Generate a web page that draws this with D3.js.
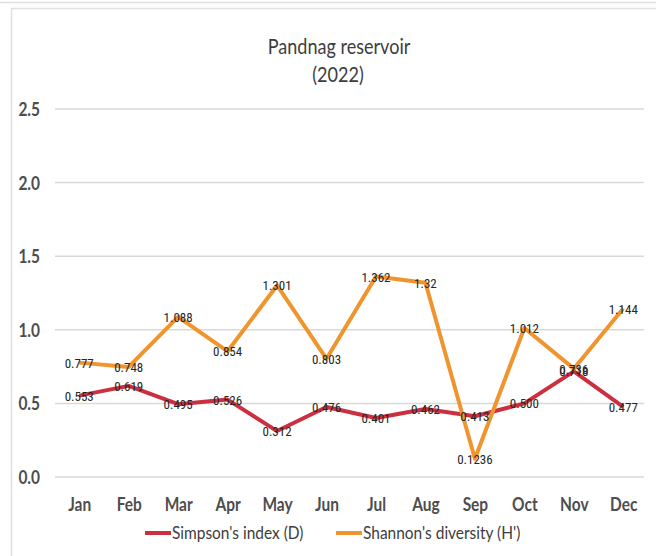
<!DOCTYPE html>
<html>
<head>
<meta charset="utf-8">
<script src="https://cdn.jsdelivr.net/npm/d3@7"></script>
<style>
  body { margin: 0; background: #fff; }
  .axis text { font-family: Lato, "DejaVu Sans", sans-serif; font-weight: bold; fill: #4d4d4d; font-size: 18px; }
  .title { font-family: Lato, sans-serif; fill: #3d3d3d; font-size: 21px; }
  .lbl { font-family: "Liberation Sans Narrow", "Roboto Condensed", Roboto, sans-serif; font-size: 13px; fill: #262626; }
  .legend text { font-family: Lato, sans-serif; font-size: 18px; fill: #3d3d3d; }
</style>
</head>
<body>
<svg width="656" height="556"></svg>
<script>
// **** data ****
var months = ['Jan','Feb','Mar','Apr','May','Jun','Jul','Aug','Sep','Oct','Nov','Dec'];
var simpson = [0.553, 0.619, 0.495, 0.526, 0.312, 0.476, 0.401, 0.462, 0.413, 0.500, 0.718, 0.477];
var shannon = [0.777, 0.748, 1.088, 0.854, 1.301, 0.803, 1.362, 1.32, 0.1236, 1.012, 0.736, 1.144];
var shannonText = ['0.777','0.748','1.088','0.854','1.301','0.803','1.362','1.32','0.1236','1.012','0.736','1.144'];
var yTicks = [0, 0.5, 1.0, 1.5, 2.0, 2.5];

var svg = d3.select('svg');
var squeeze = 0.86; // the reference font is tall and narrow

// frame
svg.append('line').attr('x1', 0).attr('x2', 656).attr('y1', 2.5).attr('y2', 2.5)
    .attr('stroke', '#e0e0e0').attr('stroke-width', 1.5);
svg.append('rect').attr('x', 11.5).attr('y', 8.5).attr('width', 660).attr('height', 560)
    .attr('fill', 'none').attr('stroke', '#e0e0e0').attr('stroke-width', 1.5);

// **** scales ****
var xScale = d3.scalePoint().domain(months).range([54.5, 648]).padding(0.5);
var yScale = d3.scaleLinear().domain([0, 2.5]).range([477, 109]);

// gridlines
svg.append('g').selectAll('line')
    .data(yTicks).enter().append('line')
    .attr('x1', 55).attr('x2', 644)
    .attr('y1', function(d){ return yScale(d); })
    .attr('y2', function(d){ return yScale(d); })
    .attr('stroke', '#d9d9d9').attr('stroke-width', 1.5);

// y axis
svg.append('g').attr('class', 'axis')
    .attr('transform', 'translate(40,0)')
    .call(d3.axisLeft(yScale).tickValues(yTicks).tickSize(0).tickPadding(0).tickFormat(d3.format('.1f')))
    .call(function(g){
        g.select('.domain').remove();
        g.selectAll('text').attr('dy', '0.36em').attr('transform', 'scale(' + squeeze + ',1)');
    });

// x axis
svg.append('g').attr('class', 'axis')
    .attr('transform', 'translate(0,511)')
    .call(d3.axisBottom(xScale).tickSize(0).tickPadding(0))
    .call(function(g){
        g.select('.domain').remove();
        g.selectAll('text').attr('y', 0).attr('dy', 0).attr('transform', 'scale(' + squeeze + ',1)');
    });

// title
function squeezedText(sel, x, y, cls, txt) {
    sel.append('g').attr('transform', 'translate(' + x + ',' + y + ') scale(' + squeeze + ',1)')
        .append('text').attr('class', cls).attr('text-anchor', 'middle').text(txt);
}
squeezedText(svg, 339, 54, 'title', 'Pandnag reservoir');
squeezedText(svg, 338, 82, 'title', '(2022)');

// **** lines ****
var series = [
    {name: "Simpson's index (D)", values: simpson, color: '#cc2f3f',
     text: simpson.map(function(d){ return d.toFixed(3); })},
    {name: "Shannon's diversity (H')", values: shannon, color: '#f0952d', text: shannonText}
];

var line = d3.line()
    .x(function(d, i){ return xScale(months[i]); })
    .y(function(d){ return yScale(d); });

series.forEach(function(s) {
    svg.append('path')
        .attr('d', line(s.values))
        .attr('fill', 'none')
        .attr('stroke', s.color)
        .attr('stroke-width', 4)
        .attr('stroke-linejoin', 'round');
});

series.forEach(function(s) {
    svg.append('g').selectAll('text')
        .data(s.values).enter().append('text')
        .attr('class', 'lbl')
        .attr('x', function(d, i){ return xScale(months[i]); })
        .attr('y', function(d){ return yScale(d) + 5; })
        .attr('text-anchor', 'middle')
        .text(function(d, i){ return s.text[i]; });
});

// legend
var legend = svg.append('g').attr('class', 'legend');
var legX = [145, 336];
series.forEach(function(s, i) {
    legend.append('line')
        .attr('x1', legX[i]).attr('x2', legX[i] + 26)
        .attr('y1', 533).attr('y2', 533)
        .attr('stroke', s.color).attr('stroke-width', 4);
    legend.append('g')
        .attr('transform', 'translate(' + (legX[i] + 27) + ',539) scale(' + squeeze + ',1)')
        .append('text')
        .text(s.name);
});
</script>
</body>
</html>
